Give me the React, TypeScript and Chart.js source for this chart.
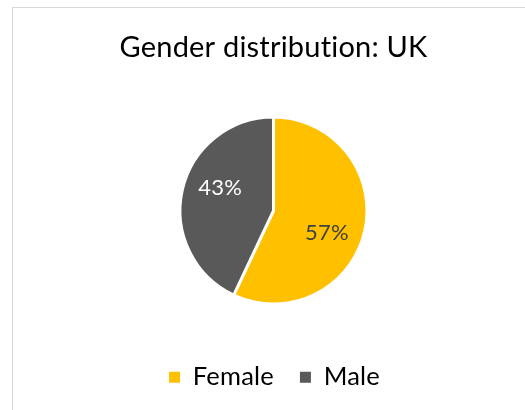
import React, { useEffect, useRef } from "react";
import { Chart, registerables } from "chart.js";

Chart.register(...registerables);

const titleText = "Gender distribution: UK";
const categories = ["Female", "Male"];
const shares = [57, 43];
const sliceColors = ["#FFC000", "#595959"];
const labelColors = ["#404040", "#FFFFFF"];

const FONT = "Lato";

const noLigatures = {
  id: "noLigatures",
  beforeDraw(chart: any) {
    // a tiny letter spacing stops the "ti" ligature of Lato
    (chart.ctx as any).letterSpacing = "0.2px";
  },
};

const pieLabels = {
  id: "pieLabels",
  afterDatasetsDraw(chart: any) {
    const ctx = chart.ctx;
    const meta = chart.getDatasetMeta(0);
    const data = chart.data.datasets[0].data as number[];
    meta.data.forEach((arc: any, i: number) => {
      const { x, y, startAngle, endAngle, outerRadius } = arc.getProps(
        ["x", "y", "startAngle", "endAngle", "outerRadius"],
        true
      );
      const mid = (startAngle + endAngle) / 2 + 0.18;
      const r = outerRadius * 0.62;
      ctx.save();
      ctx.font = `22px ${FONT}`;
      ctx.fillStyle = labelColors[i];
      ctx.textAlign = "center";
      ctx.textBaseline = "middle";
      ctx.fillText(`${data[i]}%`, x + Math.cos(mid) * r, y + Math.sin(mid) * r);
      ctx.restore();
    });
  },
};

export default function App() {
  const ref = useRef<HTMLCanvasElement | null>(null);

  useEffect(() => {
    if (!ref.current) return;
    const chart = new Chart(ref.current, {
      type: "pie",
      data: {
        labels: categories,
        datasets: [
          {
            data: shares,
            backgroundColor: sliceColors,
            borderColor: "#FFFFFF",
            borderWidth: 3,
            radius: 93.5,
            hoverOffset: 0,
          },
        ],
      },
      options: {
        responsive: false,
        animation: false,
        layout: { padding: 0 },
        plugins: {
          title: {
            display: true,
            text: titleText,
            color: "#000000",
            font: { family: FONT, size: 29, weight: "normal" },
            padding: { top: 22.4, bottom: 17.4 },
          },
          legend: {
            display: true,
            position: "bottom",
            labels: {
              boxWidth: 11,
              boxHeight: 11,
              padding: 26,
              color: "#000000",
              font: { family: FONT, size: 25.5 },
              generateLabels: () =>
                categories.map((c, i) => ({
                  text: c,
                  fillStyle: sliceColors[i],
                  strokeStyle: sliceColors[i],
                  lineWidth: 0,
                  hidden: false,
                  index: i,
                  fontColor: "#000000",
                })),
            },
          },
          tooltip: { enabled: false },
        },
      },
      plugins: [noLigatures, pieLabels],
    });
    return () => chart.destroy();
  }, []);

  return (
    <div
      style={{
        position: "fixed",
        left: 0,
        top: 0,
        width: 525,
        height: 410,
        overflow: "hidden",
        background: "#FFFFFF",
      }}
    >
      <div
        style={{
          position: "absolute",
          left: 12,
          top: 7,
          width: 600,
          height: 500,
          border: "1px solid #D9D9D9",
        }}
      >
        <canvas
          ref={ref}
          width={521}
          height={392}
          style={{ position: "absolute", left: 0, top: 0, width: 521, height: 392 }}
        />
      </div>
    </div>
  );
}
